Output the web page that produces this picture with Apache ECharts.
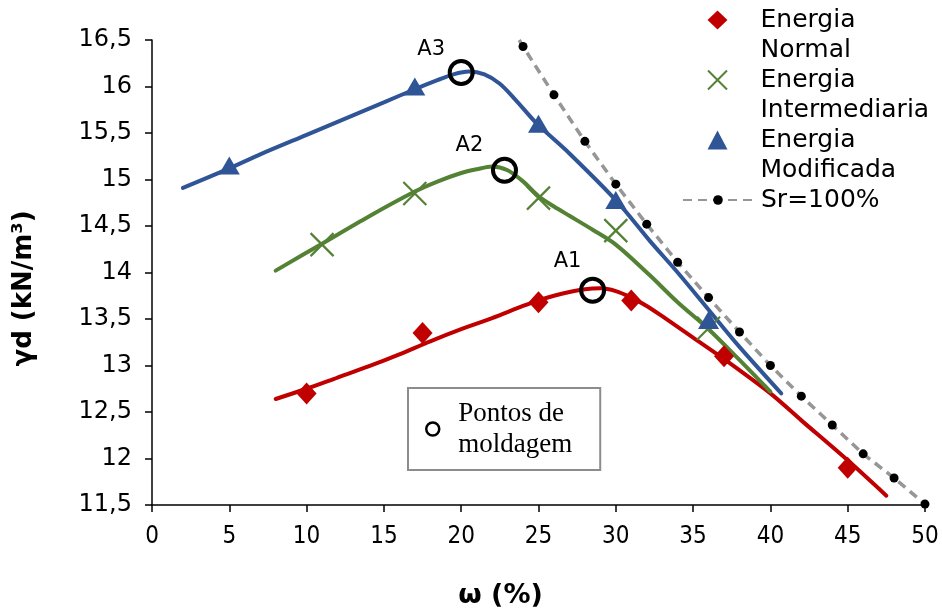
<!DOCTYPE html>
<html>
<head>
<meta charset="utf-8">
<script src="https://cdn.jsdelivr.net/npm/echarts@6/dist/echarts.min.js"></script>
<style>
  html, body { margin: 0; padding: 0; background: #fff; }
  #chart { width: 942px; height: 614px; }
</style>
</head>
<body>
<div id="chart"></div>
<script>
// pontos medidos (w %, yd kN/m3)
const omegaNormal = [10, 17.5, 25, 31, 37, 45];
const gammaNormal = [12.7, 13.35, 13.68, 13.7, 13.1, 11.9];
const omegaInter = [11, 17, 25, 30, 36];
const gammaInter = [14.3, 14.85, 14.8, 14.45, 13.4];
const omegaMod = [5, 17, 25, 30, 36];
const gammaMod = [15.15, 16.0, 15.6, 14.78, 13.49];

// curvas de compactacao
const curveNormalX = [8, 10, 12, 14, 16, 18, 20, 22, 24, 25, 26, 27, 28, 29, 30, 31, 32, 33, 35, 37, 40, 42, 45, 47.5];
const curveNormalY = [12.64, 12.75, 12.87, 12.99, 13.12, 13.26, 13.39, 13.51, 13.64, 13.7, 13.75, 13.79, 13.82, 13.83, 13.8, 13.73, 13.64, 13.53, 13.3, 13.07, 12.7, 12.41, 11.98, 11.6];
const curveInterX = [8, 11, 14, 17, 18.5, 20, 21, 22, 23, 24, 25, 26, 27, 28.5, 30, 32.2, 34, 36, 38, 40];
const curveInterY = [14.02, 14.31, 14.6, 14.87, 14.98, 15.07, 15.11, 15.14, 15.1, 14.98, 14.82, 14.71, 14.61, 14.46, 14.3, 13.97, 13.68, 13.39, 13.06, 12.72];
const curveModX = [2, 5, 7, 10, 13, 15, 17, 18.5, 19.5, 20.5, 21.5, 22.5, 23.5, 24.9, 27, 30.1, 32.2, 34, 36, 38, 40.7];
const curveModY = [14.91, 15.12, 15.27, 15.48, 15.69, 15.83, 15.97, 16.07, 16.13, 16.16, 16.13, 16.03, 15.86, 15.6, 15.28, 14.76, 14.34, 14.0, 13.6, 13.2, 12.7];

// Sr = 100%
const omegaSat = [24, 26, 28, 30, 32, 34, 36, 38, 40, 42, 44, 46, 48, 50];
const gammaSat = [16.43, 15.91, 15.41, 14.95, 14.52, 14.11, 13.73, 13.36, 13.0, 12.67, 12.36, 12.05, 11.79, 11.51];
const satStart = [23.75, 16.5];

// pontos de moldagem
const omegaMold = [28.5, 22.8, 20];
const gammaMold = [13.81, 15.1, 16.15];
const moldLabels = ['A1', 'A2', 'A3'];

const xTicks = { min: 0, max: 50, interval: 5 };
const yTicks = { min: 11.5, max: 16.5, interval: 0.5 };

const RED = '#C00000';
const GREEN = '#548235';
const BLUE = '#2F5597';
const GRAY = '#969696';
const CROSS = 'path://M0,0L10,10M10,0L0,10';

const zip = (xs, ys) => xs.map((x, i) => [x, ys[i]]);

const chart = echarts.init(document.getElementById('chart'));

function curve(x, y, color) {
    return {
        type: 'line',
        data: zip(x, y),
        symbol: 'none',
        smooth: 0.3,
        silent: true,
        z: 2,
        lineStyle: { color: color, width: 4, cap: 'round' }
    };
}

const labelOffsets = [[-25, -29], [-35, -25], [-30, -23]];
const legendFont = { fontFamily: 'DejaVu Sans', fontSize: 25, lineHeight: 30, color: '#000' };

chart.setOption({
    backgroundColor: '#fff',
    animation: false,
    grid: { left: 152, right: 17, top: 40, bottom: 105 },
    xAxis: {
        type: 'value',
        min: xTicks.min, max: xTicks.max, interval: xTicks.interval,
        name: 'ω (%)',
        nameLocation: 'middle',
        nameGap: 77,
        nameTextStyle: { fontFamily: 'DejaVu Sans', fontWeight: 'bold', fontSize: 27, color: '#000', padding: [0, 76, 0, 0] },
        axisLine: { lineStyle: { color: '#000', width: 1.5 } },
        axisTick: { length: 7, lineStyle: { color: '#000', width: 1.5 } },
        axisLabel: { margin: 20, color: '#000', fontSize: 24, fontFamily: 'DejaVu Sans Condensed, DejaVu Sans' },
        splitLine: { show: false }
    },
    yAxis: {
        type: 'value',
        min: yTicks.min, max: yTicks.max, interval: yTicks.interval,
        name: 'γd (kN/m³)',
        nameLocation: 'middle',
        nameGap: 115,
        nameRotate: 90,
        nameTextStyle: { fontFamily: 'DejaVu Sans', fontWeight: 'bold', fontSize: 26, color: '#000', padding: [0, 32, 0, 0] },
        axisLine: { show: true, lineStyle: { color: '#000', width: 1.5 } },
        axisTick: { show: true, length: 7, lineStyle: { color: '#000', width: 1.5 } },
        axisLabel: {
            margin: 20, color: '#000', fontSize: 24, fontFamily: 'DejaVu Sans',
            formatter: v => String(v).replace('.', ',')
        },
        splitLine: { show: false }
    },
    legend: [{
        // energias: icone alinhado com a primeira linha do texto
        orient: 'vertical',
        left: 702,
        top: -30,
        padding: 5,
        itemWidth: 20,
        itemHeight: 19,
        itemGap: -30,
        formatter: name => '\n' + name.replace(' ', '\n'),
        textStyle: Object.assign({ padding: [0, 0, 0, 28] }, legendFont),
        data: ['Energia Normal', 'Energia Intermediaria', 'Energia Modificada']
    }, {
        orient: 'vertical',
        left: 677,
        top: 180,
        padding: 5,
        itemWidth: 70,
        itemHeight: 12,
        textStyle: Object.assign({ padding: [0, 0, 0, 3] }, legendFont),
        data: ['Sr=100%']
    }, {
        left: 408,
        top: 388,
        orient: 'vertical',
        padding: [10, 28, 10, 17],
        borderColor: '#8c8c8c',
        borderWidth: 2,
        backgroundColor: '#fff',
        itemWidth: 13,
        itemHeight: 13,
        itemStyle: { borderWidth: 2.5 },
        textStyle: { fontFamily: 'Liberation Serif', fontSize: 27, lineHeight: 31, color: '#000', padding: [0, 0, 0, 14] },
        formatter: () => 'Pontos de\nmoldagem',
        data: ['Pontos de moldagem']
    }],
    series: [
        curve(curveNormalX, curveNormalY, RED),
        curve(curveInterX, curveInterY, GREEN),
        curve(curveModX, curveModY, BLUE),
        {
            name: 'Sr=100%',
            type: 'line',
            data: [{ value: satStart, symbol: 'none' }].concat(zip(omegaSat, gammaSat)),
            symbol: 'circle',
            symbolSize: 9,
            showSymbol: true,
            itemStyle: { color: '#000' },
            lineStyle: { color: GRAY, width: 3.5, type: [9, 6] },
            z: 3
        },
        {
            name: 'Energia Normal',
            type: 'scatter',
            data: zip(omegaNormal, gammaNormal),
            symbol: 'diamond',
            symbolSize: [20, 22],
            itemStyle: { color: RED, opacity: 1 },
            z: 4
        },
        {
            name: 'Energia Intermediaria',
            type: 'scatter',
            data: zip(omegaInter, gammaInter),
            symbol: CROSS,
            symbolSize: 23,
            itemStyle: { color: GREEN, borderColor: GREEN, borderWidth: 2.2, opacity: 1 },
            z: 4
        },
        {
            name: 'Energia Modificada',
            type: 'scatter',
            data: zip(omegaMod, gammaMod),
            symbol: 'triangle',
            symbolSize: [21, 18],
            itemStyle: { color: BLUE, opacity: 1 },
            z: 4
        },
        {
            name: 'Pontos de moldagem',
            type: 'scatter',
            data: omegaMold.map((x, i) => ({
                value: [x, gammaMold[i]],
                label: { show: true, formatter: moldLabels[i], position: 'inside', offset: labelOffsets[i] }
            })),
            symbol: 'circle',
            symbolSize: 23,
            itemStyle: { color: 'rgba(0,0,0,0)', borderColor: '#000', borderWidth: 4, opacity: 1 },
            label: { color: '#000', fontFamily: 'DejaVu Sans', fontSize: 21 },
            z: 5
        }
    ]
});
</script>
</body>
</html>
